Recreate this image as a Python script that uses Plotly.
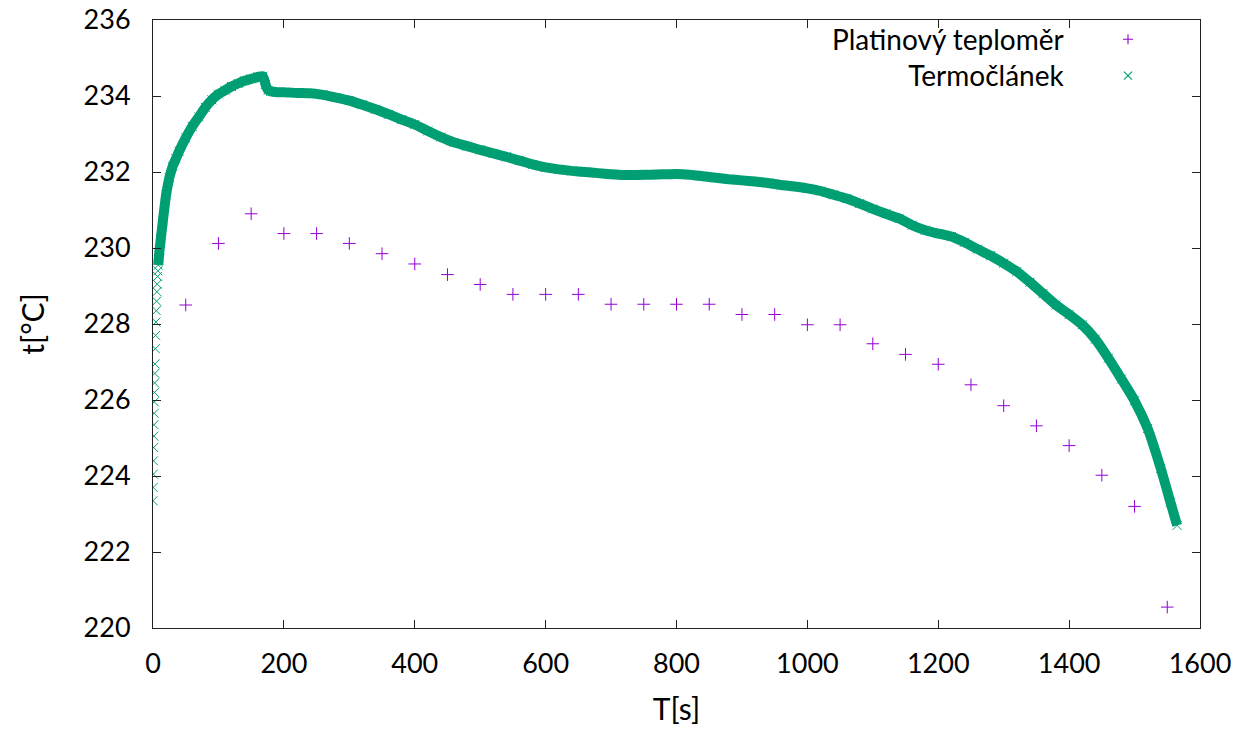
import plotly.graph_objects as go

# ---- data ----
pt_time = [50, 100, 150, 200, 250, 300, 350, 400, 450, 500, 550, 600, 650, 700, 750, 800,
           850, 900, 950, 1000, 1050, 1100, 1150, 1200, 1250, 1300, 1350, 1400, 1450, 1500, 1550]
pt_temp = [228.5, 230.12, 230.9, 230.38, 230.38, 230.12, 229.85, 229.58, 229.3, 229.04, 228.78,
           228.78, 228.78, 228.52, 228.52, 228.52, 228.52, 228.25, 228.25, 227.98, 227.98, 227.48,
           227.2, 226.94, 226.4, 225.85, 225.32, 224.8, 224.02, 223.2, 220.55]

tc_time = [0, 0.25, 0.5, 0.75, 1.0, 1.25, 1.5, 1.75, 2.0, 2.25, 2.5, 2.75, 3.0, 3.5, 4.0, 4.5,
           5.0, 5.5, 6.0, 6.5, 7.0, 7.5, 8.0, 9, 10, 12, 15, 20, 25, 30, 35, 40, 50, 60, 70, 80,
           90, 100, 110, 120, 130, 140, 150, 160, 168, 172, 176, 180, 190, 200, 220, 240, 260,
           280, 300, 320, 340, 360, 380, 400, 420, 440, 460, 480, 500, 520, 540, 560, 580, 600,
           620, 640, 660, 680, 700, 720, 740, 760, 780, 800, 820, 840, 860, 880, 900, 920, 940,
           960, 980, 1000, 1020, 1040, 1060, 1080, 1100, 1120, 1140, 1160, 1180, 1200, 1220,
           1240, 1260, 1280, 1300, 1320, 1340, 1360, 1380, 1400, 1420, 1440, 1460, 1480, 1500,
           1520, 1540, 1555, 1565]
tc_temp = [223.35, 223.7, 224.05, 224.4, 224.75, 225.05, 225.35, 225.65, 225.95, 226.2, 226.45,
           226.7, 226.95, 227.35, 227.7, 228.05, 228.35, 228.6, 228.85, 229.05, 229.25, 229.4,
           229.55, 229.75, 229.95, 230.25, 230.7, 231.4, 231.85, 232.15, 232.35, 232.55, 232.9,
           233.2, 233.45, 233.7, 233.9, 234.05, 234.15, 234.25, 234.33, 234.4, 234.45, 234.5,
           234.52, 234.3, 234.15, 234.12, 234.1, 234.1, 234.08, 234.07, 234.03, 233.96, 233.88,
           233.77, 233.65, 233.52, 233.38, 233.25, 233.08, 232.92, 232.78, 232.68, 232.58,
           232.49, 232.4, 232.3, 232.2, 232.12, 232.07, 232.03, 232.0, 231.97, 231.94, 231.92,
           231.92, 231.93, 231.94, 231.95, 231.93, 231.89, 231.85, 231.81, 231.78, 231.75,
           231.71, 231.66, 231.62, 231.57, 231.5, 231.4, 231.3, 231.17, 231.03, 230.9, 230.78,
           230.6, 230.47, 230.38, 230.3, 230.15, 229.97, 229.8, 229.6, 229.38, 229.1, 228.8,
           228.5, 228.25, 227.98, 227.6, 227.1, 226.55, 225.98, 225.25, 224.2, 223.3, 222.7]

series_names = ["Platinový teploměr", "Termočlánek"]
x_ticks = [0, 200, 400, 600, 800, 1000, 1200, 1400, 1600]
y_ticks = [220, 222, 224, 226, 228, 230, 232, 234, 236]

PURPLE = "#9400d3"
GREEN = "#009e73"
FONT = "Lato"

fig = go.Figure()

# thermocouple: individual x markers
fig.add_trace(go.Scatter(
    x=tc_time, y=tc_temp, mode="markers", name=series_names[1], showlegend=False,
    marker=dict(symbol="x-thin", size=9, line=dict(color=GREEN, width=1), color=GREEN),
))
# dense band where samples overlap into a solid stripe
start = next(i for i, t in enumerate(tc_time) if t >= 8)
fig.add_trace(go.Scatter(
    x=tc_time[start:], y=tc_temp[start:], mode="lines", showlegend=False,
    line=dict(color=GREEN, width=10, shape="spline", smoothing=0.5), hoverinfo="skip",
))
# platinum thermometer
fig.add_trace(go.Scatter(
    x=pt_time, y=pt_temp, mode="markers", name=series_names[0], showlegend=False,
    marker=dict(symbol="cross-thin", size=9, line=dict(color=PURPLE, width=1), color=PURPLE),
))

L, R, T, B = 153, 47, 20, 102
W, H = 1247, 730
pw, ph = W - L - R, H - T - B

def px_to_paper(px, py):
    return (px - L) / pw, (H - B - py) / ph

# custom gnuplot-like legend (text right-aligned, symbol to the right)
LEG_FONT = 28
row_gap = 1.3 * LEG_FONT
center_y = 57.5
tx, ty = px_to_paper(1067, center_y)
fig.add_annotation(x=tx, y=ty, xref="paper", yref="paper",
                   text="<br>".join(series_names), showarrow=False, align="right",
                   xanchor="right", yanchor="middle",
                   font=dict(family=FONT, size=LEG_FONT, color="black"))
for i, ypx in enumerate([center_y - row_gap / 2, center_y + row_gap / 2]):
    sx, sy = px_to_paper(1128, ypx)
    if i == 0:
        path = "M -5 0 L 5 0 M 0 -5 L 0 5"
        col = PURPLE
    else:
        path = "M -4 -4 L 4 4 M -4 4 L 4 -4"
        col = GREEN
    fig.add_shape(type="path", xref="paper", yref="paper", xsizemode="pixel", ysizemode="pixel",
                  xanchor=sx, yanchor=sy, path=path, line=dict(color=col, width=1.1))

axis_common = dict(
    showgrid=False, zeroline=False, showline=True, linecolor="#222", linewidth=1,
    mirror="ticks", ticks="inside", ticklen=8, tickcolor="#222", tickwidth=1,
    tickfont=dict(family=FONT, size=27, color="black"), automargin=False,
)
fig.update_xaxes(range=[0, 1600], tickvals=x_ticks, ticktext=[str(v) for v in x_ticks],
                 title=dict(text="T[s]", font=dict(family=FONT, size=30, color="black"), standoff=20),
                 ticklabelstandoff=12, **axis_common)
fig.update_yaxes(range=[220, 236], tickvals=y_ticks, ticktext=[str(v) for v in y_ticks],
                 title=dict(text="t[°C]", font=dict(family=FONT, size=30, color="black"), standoff=30),
                 ticklabelstandoff=16, **axis_common)

fig.update_layout(width=W, height=H, margin=dict(l=L, r=R, t=T, b=B),
                  paper_bgcolor="white", plot_bgcolor="white", showlegend=False,
                  font=dict(family=FONT))

fig.write_html("out.html")
